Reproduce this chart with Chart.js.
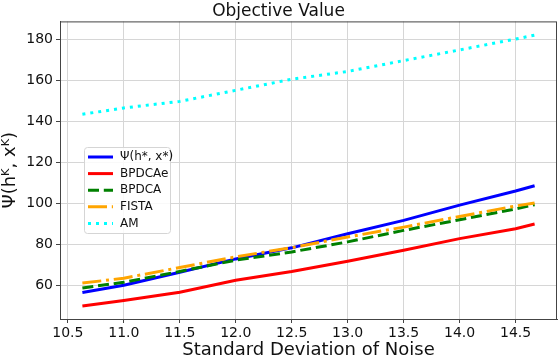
<!DOCTYPE html>
<html>
<head>
<meta charset="utf-8">
<script src="https://cdn.jsdelivr.net/npm/chart.js@4/dist/chart.umd.min.js"></script>
<style>
  html, body { margin: 0; padding: 0; background: #fff; }
  #c { display: block; }
</style>
</head>
<body>
<canvas id="c" width="558" height="361" style="width:558px;height:361px"></canvas>
<script>
// noise levels (x) and objective values per method
const sigma   = [10.63, 11.0, 11.5, 12.0, 12.5, 13.0, 13.5, 14.0, 14.5, 14.67];
const psiStar = [56.6, 60.2, 66.5, 73.0, 78.4, 85.3, 91.8, 99.2, 106.1, 108.7];
const bpdcae  = [50.0, 52.7, 56.7, 62.6, 66.9, 71.9, 77.2, 82.9, 87.7, 90.0];
const bpdca   = [58.8, 61.6, 66.9, 72.4, 76.4, 81.3, 86.9, 92.1, 97.4, 99.4];
const fista   = [61.2, 63.6, 68.8, 74.0, 78.5, 83.7, 88.5, 93.7, 98.8, 100.3];
const am      = [143.5, 146.6, 149.8, 155.2, 160.6, 164.4, 169.7, 174.9, 180.2, 182.1];
const xTicks  = [10.5, 11.0, 11.5, 12.0, 12.5, 13.0, 13.5, 14.0, 14.5];
const yTicks  = [60, 80, 100, 120, 140, 160, 180];

const FONT = "'DejaVu Sans', sans-serif";
const pts = ys => ys.map((y, i) => ({x: sigma[i], y: y}));

const series = [
  {label: 'Ψ(h*, x*)', data: psiStar, color: '#0000ff', dash: []},
  {label: 'BPDCAe', data: bpdcae, color: '#ff0000', dash: []},
  {label: 'BPDCA', data: bpdca, color: '#008000', dash: [11, 4.8]},
  {label: 'FISTA', data: fista, color: '#ffa500', dash: [19, 4.8, 3, 4.8]},
  {label: 'AM', data: am, color: '#00ffff', dash: [3, 5]}
];

// frame + legend box inside the plot, like matplotlib
const extras = {
  id: 'extras',
  afterDraw(chart) {
    const ctx = chart.ctx, a = chart.chartArea;
    ctx.save();
    ctx.strokeStyle = '#444';
    ctx.lineWidth = 1;
    ctx.strokeRect(a.left + 0.5, a.top + 0.5, a.right - a.left - 1, a.bottom - a.top);

    const bx = 84.5, by = 147.5, bw = 86, bh = 86;
    ctx.fillStyle = 'rgba(255,255,255,0.85)';
    ctx.strokeStyle = '#d5d5d5';
    ctx.beginPath();
    ctx.roundRect(bx, by, bw, bh, 3);
    ctx.fill();
    ctx.stroke();

    ctx.font = '12px ' + FONT;
    ctx.textBaseline = 'middle';
    series.forEach((s, i) => {
      const y = 157 + i * 16.6;
      ctx.strokeStyle = s.color;
      ctx.lineWidth = 3;
      ctx.lineCap = 'butt';
      ctx.setLineDash(s.dash);
      ctx.beginPath();
      ctx.moveTo(88, y);
      ctx.lineTo(113, y);
      ctx.stroke();
      ctx.setLineDash([]);
      ctx.fillStyle = '#111';
      ctx.fillText(s.label, 120, y);
    });
    ctx.restore();
  }
};

new Chart(document.getElementById('c'), {
  type: 'line',
  data: {
    datasets: series.map((s, i) => ({
      label: s.label,
      data: pts(s.data),
      borderColor: s.color,
      backgroundColor: s.color,
      borderWidth: 3,
      borderDash: s.dash,
      borderCapStyle: 'butt',
      pointRadius: 0,
      tension: 0,
      fill: false,
      order: series.length - i
    }))
  },
  options: {
    responsive: false,
    animation: false,
    layout: {padding: {left: 0, right: 1, top: 0, bottom: 0}},
    plugins: {
      legend: {display: false},
      tooltip: {enabled: false},
      title: {
        display: true,
        text: 'Objective Value',
        color: '#111',
        font: {family: FONT, size: 17, weight: 'normal'},
        padding: {top: 1, bottom: 0}
      }
    },
    scales: {
      x: {
        type: 'linear',
        min: 10.43,
        max: 14.87,
        afterBuildTicks: s => { s.ticks = xTicks.map(v => ({value: v})); },
        afterFit: s => { s.height = 42; },
        ticks: {
          color: '#111',
          font: {family: FONT, size: 14},
          padding: 2,
          maxRotation: 0,
          autoSkip: false,
          callback: v => v.toFixed(1)
        },
        grid: {color: '#d6d6d6', tickColor: '#444', tickLength: 4},
        border: {color: '#444'},
        title: {
          display: true,
          text: 'Standard Deviation of Noise',
          color: '#111',
          font: {family: FONT, size: 18},
          padding: {top: 0, bottom: 0}
        }
      },
      y: {
        min: 43.7,
        max: 188.8,
        afterBuildTicks: s => { s.ticks = yTicks.map(v => ({value: v})); },
        afterFit: s => { s.width = 60; },
        ticks: {
          color: '#111',
          font: {family: FONT, size: 14},
          padding: 3
        },
        grid: {color: '#d6d6d6', tickColor: '#444', tickLength: 4},
        border: {color: '#444'},
        title: {
          display: true,
          text: 'Ψ(hᴷ, xᴷ)',
          color: '#111',
          font: {family: FONT, size: 18},
          padding: {top: 0, bottom: 0}
        }
      }
    }
  },
  plugins: [extras]
});
</script>
</body>
</html>
